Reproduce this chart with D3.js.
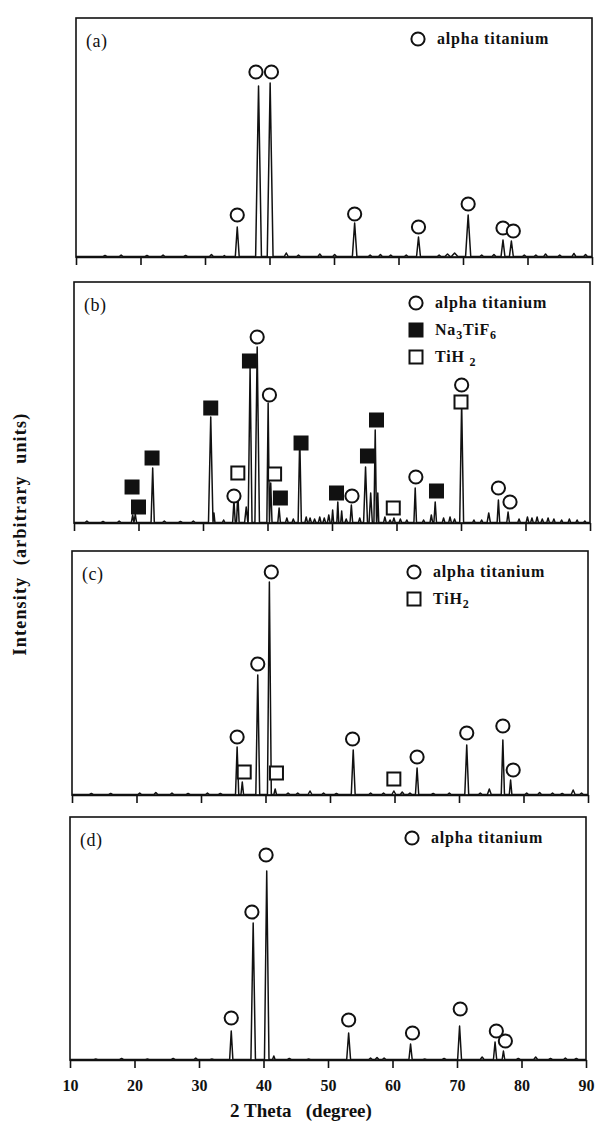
<!DOCTYPE html>
<html>
<head>
<meta charset="utf-8">
<script src="https://cdn.jsdelivr.net/npm/d3@7"></script>
<style>
body{margin:0;background:#fff;}
svg text{font-family:"Liberation Serif","Times New Roman",serif;fill:#111;}
</style>
</head>
<body>
<svg id="chart" width="596" height="1124"></svg>
<script>
var xTicks = [10,20,30,40,50,60,70,80,90];
var panelNames = ["(a)","(b)","(c)","(d)"];

// peaks: [2 theta, intensity, half width]
var peaksA = [[35.0,30,0.3],[38.3,171,0.45],[40.1,174,0.45],[53.2,34,0.35],[63.1,20,0.3],[70.8,42,0.4],[76.2,17,0.3],[77.5,16,0.3]];
var noiseA = [[14.5,1.5,0.3],[17,2,0.3],[21,1.5,0.3],[23.5,2,0.3],[27,1.5,0.3],[31,2.5,0.3],[33,1.5,0.2],[42.6,4,0.3],[44.5,2,0.3],[47.8,3,0.3],[50.1,2.5,0.3],[55.6,2,0.3],[57.2,2.5,0.3],[58.8,2,0.3],[61.2,2,0.3],[66.3,2,0.3],[67.6,3,0.4],[68.7,4,0.5],[72.9,2,0.3],[74.8,2.5,0.3],[79.5,2,0.3],[81.3,2,0.3],[82.8,3,0.3],[85,2,0.3],[87.2,3.5,0.3],[89,2.5,0.3]];
var peaksB = [[19.1,8,0.2],[19.5,9,0.2],[22.2,55,0.25],[31.2,106,0.35],[31.7,10,0.15],[34.8,23,0.2],[35.4,30,0.2],[36.7,16,0.25],[37.3,155,0.3],[38.4,176,0.35],[40.1,120,0.2],[40.5,40,0.2],[41.8,15,0.2],[45.0,86,0.25],[50.1,13,0.15],[50.9,21,0.15],[51.5,12,0.15],[53.0,18,0.2],[55.2,56,0.3],[56.0,30,0.25],[56.7,93,0.2],[57.1,30,0.15],[59.6,5,0.2],[62.9,35,0.2],[65.4,8,0.2],[66.0,21,0.2],[70.1,121,0.3],[74.3,10,0.25],[75.8,23,0.2],[77.3,11,0.2]];
var noiseB = [[12,2,0.3],[14.5,1.5,0.3],[17,2,0.3],[24,2,0.3],[26.5,1.5,0.3],[28.5,2,0.3],[33.2,3,0.2],[43,5,0.2],[44,4,0.2],[46,6,0.2],[46.6,5,0.2],[47.3,4,0.2],[48.1,6,0.2],[48.8,5,0.2],[49.5,8,0.2],[52.2,4,0.2],[54.3,5,0.2],[58.2,6,0.2],[59.0,3,0.2],[60.6,4,0.2],[61.6,3,0.2],[64.2,3,0.2],[67.3,5,0.2],[68.3,6,0.2],[69.0,4,0.2],[72.0,3,0.2],[73.2,3,0.2],[79.0,4,0.2],[80.3,6,0.2],[81.0,5,0.2],[81.8,6,0.2],[82.6,4,0.2],[83.5,5,0.2],[84.4,4,0.2],[85.6,3,0.2],[86.8,4,0.2],[88.0,3,0.2],[89.2,2,0.2]];
var peaksC = [[35.6,48,0.25],[36.4,13,0.2],[38.8,120,0.3],[40.6,213,0.3],[41.5,6,0.2],[46.9,4,0.3],[53.6,45,0.3],[59.9,4,0.3],[63.5,27,0.25],[71.2,50,0.3],[74.7,6,0.3],[76.8,55,0.25],[78.0,15,0.2],[87.7,5,0.3]];
var noiseC = [[13,1.5,0.3],[16,1.5,0.3],[20.5,2,0.3],[23,2.5,0.3],[25.5,2,0.3],[28,1.5,0.3],[31,2,0.3],[33,1.5,0.3],[43.5,2,0.3],[45,2,0.3],[49,2,0.3],[51,1.5,0.3],[56.3,2,0.3],[58.3,2,0.3],[61.2,3,0.3],[62.4,2,0.3],[66,1.5,0.3],[68.5,2,0.3],[73.3,2,0.3],[80.5,2,0.3],[82.5,2.5,0.3],[84.5,2,0.3],[86,1.5,0.3],[89,2,0.3]];
var peaksD = [[35.0,29,0.25],[38.4,137,0.35],[40.5,189,0.35],[41.6,4,0.2],[53.2,27,0.3],[62.8,16,0.25],[70.4,34,0.3],[73.9,3,0.3],[75.9,18,0.25],[77.2,9,0.2],[82.2,3,0.3],[86.8,2,0.3]];
var noiseD = [[14,1,0.3],[18,1.5,0.3],[22,1,0.3],[26,1.5,0.3],[29.5,2,0.3],[32,1,0.3],[44,1.5,0.3],[47,1,0.3],[56.6,2,0.3],[57.6,2.5,0.3],[58.7,2,0.3],[65,1,0.3],[68,1.5,0.3],[79.5,1.5,0.3],[84.5,1.5,0.3],[88.5,1.5,0.3]];

// phase markers: [2 theta, level, o = alpha Ti, f = Na3TiF6, s = TiH2]
var markersA = [[35.0,42,"o"],[37.9,185,"o"],[40.3,185,"o"],[53.2,43,"o"],[63.1,30,"o"],[70.8,53,"o"],[76.2,29,"o"],[77.8,26,"o"]];
var markersB = [[19.0,36,"f"],[20.0,16,"f"],[22.1,65,"f"],[31.2,115,"f"],[34.8,27,"o"],[35.4,50,"s"],[37.2,162,"f"],[38.4,186,"o"],[40.3,128,"o"],[41.1,49,"s"],[42.0,25,"f"],[45.2,80,"f"],[50.7,30,"f"],[53.1,27,"o"],[55.5,67,"f"],[56.9,103,"f"],[59.5,15,"s"],[63.0,46,"o"],[66.2,32,"f"],[70.0,121,"s"],[70.1,138,"o"],[75.8,35,"o"],[77.6,21,"o"]];
var markersC = [[35.6,58,"o"],[36.7,23,"s"],[38.8,131,"o"],[40.9,223,"o"],[41.7,22,"s"],[53.5,56,"o"],[59.9,16,"s"],[63.5,38,"o"],[71.2,62,"o"],[76.8,69,"o"],[78.4,25,"o"]];
var markersD = [[35.0,42,"o"],[38.2,148,"o"],[40.4,205,"o"],[53.2,40,"o"],[63.1,27,"o"],[70.5,51,"o"],[76.1,29,"o"],[77.5,19,"o"]];

var legendA = [["o","alpha titanium"]];
var legendB = [["o","alpha titanium"],["f","Na_3TiF_6"],["s","TiH _2"]];
var legendC = [["o","alpha titanium"],["s","TiH_2"]];
var legendD = [["o","alpha titanium"]];

var panels = [
  {peaks: peaksA.concat(noiseA), markers: markersA, legend: legendA},
  {peaks: peaksB.concat(noiseB), markers: markersB, legend: legendB},
  {peaks: peaksC.concat(noiseC), markers: markersC, legend: legendC},
  {peaks: peaksD.concat(noiseD), markers: markersD, legend: legendD}
];

var panelTop = [18, 282, 551, 817];
var panelBottom = [257, 523, 795, 1060];
var panelLeft = [76, 74, 72, 70];
var panelW = 516;
var ink = "#111";

var svg = d3.select("#chart");

function tracePoints(peaks){
  var pts = [[10, 0.5]];
  peaks.slice().sort(function(a,b){return a[0]-b[0];}).forEach(function(p){
    pts.push([p[0]-p[2], 0.5], [p[0], p[1]], [p[0]+p[2], 0.5]);
  });
  pts.push([90, 0.5]);
  return pts;
}

function drawMarker(g, type, cx, cy){
  if(type == "o"){
    g.append("circle").attr("cx", cx).attr("cy", cy).attr("r", 6.6)
      .attr("fill", "#fff").attr("stroke", ink).attr("stroke-width", 2);
  } else if(type == "f"){
    g.append("rect").attr("x", cx-7.5).attr("y", cy-7.5).attr("width", 15).attr("height", 15)
      .attr("fill", ink);
  } else {
    g.append("rect").attr("x", cx-6.5).attr("y", cy-6.5).attr("width", 13).attr("height", 13)
      .attr("fill", "#fff").attr("stroke", ink).attr("stroke-width", 2);
  }
}

panels.forEach(function(p, i){
  var left = panelLeft[i], top = panelTop[i], bottom = panelBottom[i];
  var x = d3.scaleLinear().domain([10, 90]).range([left, left + panelW]);
  var y = d3.scaleLinear().domain([0, 240]).range([bottom, bottom - 240]);
  var g = svg.append("g");

  g.append("rect")
    .attr("x", left).attr("y", top)
    .attr("width", panelW).attr("height", bottom - top)
    .attr("fill", "none").attr("stroke", ink).attr("stroke-width", 1.6);

  var axis = g.append("g")
    .attr("transform", "translate(0," + bottom + ")")
    .call(d3.axisBottom(x).tickValues(xTicks).tickSize(8).tickSizeOuter(0).tickPadding(12)
      .tickFormat(i == 3 ? d3.format("d") : function(){ return ""; }));
  axis.select(".domain").attr("stroke", ink).attr("stroke-width", 1.6);
  axis.selectAll(".tick line").attr("stroke", ink).attr("stroke-width", 1.6);
  axis.selectAll(".tick text")
    .style("font-size", "16px").style("font-weight", "bold");

  var line = d3.line().x(function(d){return x(d[0]);}).y(function(d){return y(d[1]);});
  g.append("path")
    .attr("d", line(tracePoints(p.peaks)))
    .attr("fill", "none").attr("stroke", ink).attr("stroke-width", 1.5)
    .attr("stroke-linejoin", "round");

  var mg = g.append("g");
  p.markers.forEach(function(m){
    if(m[2] != "o") drawMarker(mg, m[2], x(m[0]), y(m[1]));
  });
  p.markers.forEach(function(m){
    if(m[2] == "o") drawMarker(mg, m[2], x(m[0]), y(m[1]));
  });

  g.append("text")
    .attr("x", left + 10).attr("y", top + 29)
    .style("font-size", "18px").style("letter-spacing", "0.5px")
    .text(panelNames[i]);

  p.legend.forEach(function(l, k){
    var ly = top + 21 + k * 27;
    drawMarker(g, l[0], left + 342, ly);
    var t = g.append("text")
      .attr("x", left + 361).attr("y", ly + 5)
      .style("font-size", "16px").style("font-weight", "bold")
      .style("letter-spacing", "0.8px").style("white-space", "pre");
    var shift = 0;
    l[1].split(/(_\d)/).forEach(function(part){
      if(part == "") return;
      if(part[0] == "_"){
        t.append("tspan").attr("dy", 4).style("font-size", "12px").text(part.slice(1));
        shift = -4;
      } else {
        t.append("tspan").attr("dy", shift).text(part);
        shift = 0;
      }
    });
  });
});

svg.append("text")
  .attr("transform", "translate(26,534) rotate(-90)")
  .attr("text-anchor", "middle")
  .style("font-size", "18px").style("font-weight", "bold")
  .style("letter-spacing", "1.2px").style("white-space", "pre")
  .text("Intensity  (arbitrary  units)");

svg.append("text")
  .attr("x", 301).attr("y", 1117)
  .attr("text-anchor", "middle")
  .style("font-size", "19px").style("font-weight", "bold")
  .style("white-space", "pre")
  .text("2 Theta   (degree)");
</script>
</body>
</html>
